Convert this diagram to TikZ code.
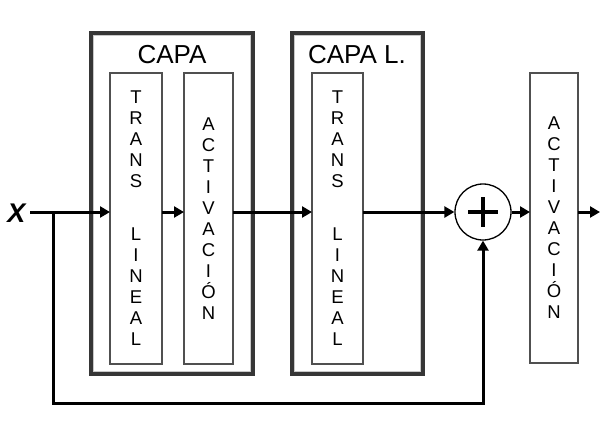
\documentclass[tikz,border=0pt]{standalone}
\usepackage{fontspec}
\setmainfont{Liberation Sans}
\usetikzlibrary{arrows.meta,calc}
\definecolor{outerc}{HTML}{363636}
\definecolor{innerc}{HTML}{505050}
\definecolor{shadowc}{HTML}{C8C8C8}
\tikzset{
  outerbox/.style={draw=outerc, line width=3.2pt, rectangle, inner sep=0pt, outer sep=0pt},
  innerbox/.style={draw=innerc, line width=2.2pt, rectangle, inner sep=0pt, outer sep=0pt, fill=white},
  vtext/.style={align=center, font=\fontsize{18.5}{21}\selectfont, inner sep=0pt},
  arr/.style={line width=3pt, -{Triangle[length=10pt,width=11pt]}},
  title/.style={font=\fontsize{26}{28}\selectfont, inner sep=0pt}
}
\begin{document}
\begin{tikzpicture}[x=1pt,y=-1pt]
\useasboundingbox (0,0) rectangle (600,424);
% outer boxes
\node[outerbox, minimum width=162pt, minimum height=341pt] (capa) at (172,203.5) {};
\node[outerbox, minimum width=131pt, minimum height=341pt] (capal) at (357.5,203.5) {};
\draw[shadowc, line width=1pt] (93.5,35.5) rectangle (250.5,371.5);
\draw[shadowc, line width=1pt] (294.5,35.5) rectangle (420.5,371.5);
\node[title] (capat) at (172,55) {CAPA};
\node[title] (capalt) at (357,55) {CAPA L.};
% inner boxes
\node[innerbox, minimum width=52pt, minimum height=291pt] (trans1) at (136,218.5) {};
\node[innerbox, minimum width=49pt, minimum height=291pt] (act1) at (208.5,218.5) {};
\node[innerbox, minimum width=51pt, minimum height=291pt] (trans2) at (337.5,218.5) {};
\node[innerbox, minimum width=48pt, minimum height=290pt] (act2) at (554,218) {};
\node[vtext] (t1) at (trans1.center) {T\\R\\A\\N\\S\\[32pt]L\\I\\N\\E\\A\\L};
\node[vtext] (a1) at (act1.center) {A\\C\\T\\I\\V\\A\\C\\I\\Ó\\N};
\node[vtext] (t2) at (trans2.center) {T\\R\\A\\N\\S\\[32pt]L\\I\\N\\E\\A\\L};
\node[vtext] (a2) at (act2.center) {A\\C\\T\\I\\V\\A\\C\\I\\Ó\\N};
% sum
\node[draw=black, line width=1.3pt, circle, minimum size=56pt, inner sep=0pt, fill=white] (sum) at (483,212) {};
\draw[line width=4.5pt] ($(sum.center)+(-15,0)$) -- ($(sum.center)+(15,0)$);
\draw[line width=4.5pt] ($(sum.center)+(0,-15)$) -- ($(sum.center)+(0,15)$);
% input
\node[font=\fontsize{27}{28}\selectfont\bfseries\itshape, inner sep=0pt] (x) at (16.5,213) {X};
\coordinate (xs) at (30,212);
\coordinate (br) at (53,212);
\coordinate (fb) at (53,403);
\coordinate (out) at (600,212);
% connectors
\draw[arr] (xs) -- (trans1.west |- xs);
\draw[arr] (trans1.east |- xs) -- (act1.west |- xs);
\draw[arr] (act1.east |- xs) -- (trans2.west |- xs);
\draw[arr] (trans2.east |- xs) -- (sum.west);
\draw[arr] (sum.east) -- (act2.west |- xs);
\draw[arr] (act2.east |- xs) -- (out);
\draw[arr] (br) -- (fb) -- (sum.south |- fb) -- (sum.south);
\end{tikzpicture}
\end{document}
